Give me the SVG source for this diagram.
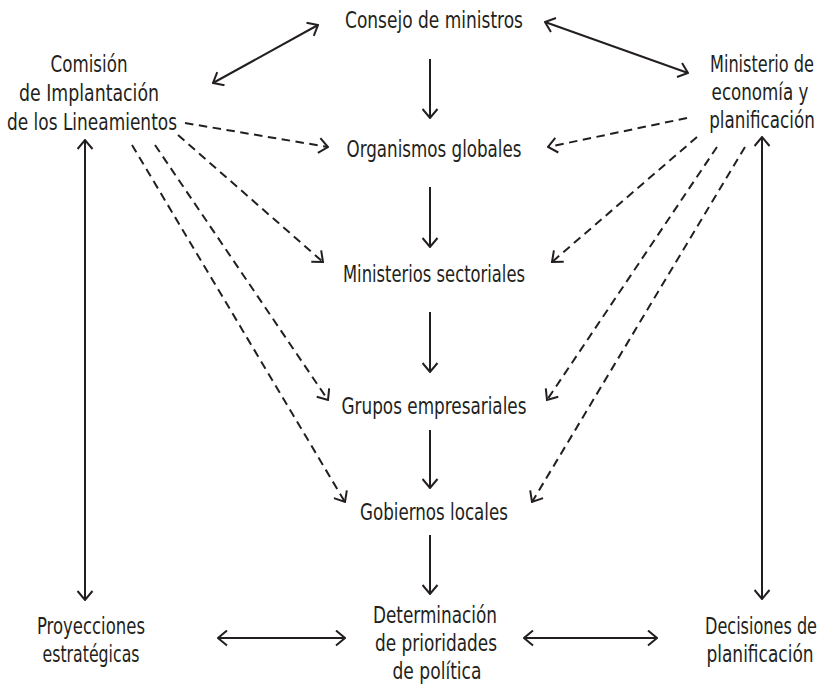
<svg xmlns="http://www.w3.org/2000/svg" width="825" height="685" viewBox="0 0 825 685">
<defs>
<style>
text{font-family:"DejaVu Sans Condensed","DejaVu Sans","Liberation Sans",sans-serif;font-size:22.5px;fill:#231f20;text-anchor:middle}
.c{fill:none;stroke:#231f20;stroke-width:2}
.d{stroke-dasharray:8.5 5.5}
.a{marker-end:url(#ah)}
.b{marker-start:url(#ah);marker-end:url(#ah)}
</style>
<marker id="ah" viewBox="0 0 11 17" refX="10" refY="8.5" markerWidth="11" markerHeight="17" markerUnits="userSpaceOnUse" orient="auto-start-reverse">
<path d="M1,1 L10,8.5 L1,16" fill="none" stroke="#231f20" stroke-width="2"/>
</marker>
</defs>
<rect width="825" height="685" fill="#ffffff"/>
<g id="connectors">
<line class="c b" x1="213" y1="83" x2="318" y2="25"/>
<line class="c b" x1="545" y1="22" x2="688" y2="73"/>
<line class="c a" x1="430" y1="59" x2="430" y2="118"/>
<line class="c a" x1="430" y1="187" x2="430" y2="247"/>
<line class="c a" x1="430" y1="312" x2="430" y2="372"/>
<line class="c a" x1="430" y1="430" x2="430" y2="488"/>
<line class="c a" x1="430" y1="535" x2="430" y2="594"/>
<line class="c b" x1="85" y1="140" x2="85" y2="600"/>
<line class="c b" x1="762" y1="137" x2="762" y2="599"/>
<line class="c b" x1="218" y1="638" x2="345" y2="638"/>
<line class="c b" x1="524" y1="638" x2="657" y2="638"/>
<line class="c d a" x1="185" y1="123" x2="328" y2="147"/>
<line class="c d a" x1="178" y1="135" x2="323" y2="262"/>
<line class="c d a" x1="155" y1="145" x2="328" y2="400"/>
<line class="c d a" x1="132" y1="145" x2="345" y2="502"/>
<line class="c d a" x1="687" y1="118" x2="548" y2="147"/>
<line class="c d a" x1="697" y1="137" x2="552" y2="262"/>
<line class="c d a" x1="717" y1="147" x2="547" y2="400"/>
<line class="c d a" x1="745" y1="147" x2="532" y2="502"/>
</g>
<g id="consejo"><text x="434" y="28" textLength="178" lengthAdjust="spacingAndGlyphs">Consejo de ministros</text></g>
<g id="comision">
<text x="89" y="72" textLength="77" lengthAdjust="spacingAndGlyphs">Comisión</text>
<text x="89" y="101" textLength="140" lengthAdjust="spacingAndGlyphs">de Implantación</text>
<text x="92" y="130" textLength="170" lengthAdjust="spacingAndGlyphs">de los Lineamientos</text>
</g>
<g id="ministerio-economia">
<text transform="translate(762,72) scale(0.8,1)" textLength="130" lengthAdjust="spacingAndGlyphs">Ministerio de</text>
<text transform="translate(760,100) scale(0.8,1)" textLength="121" lengthAdjust="spacingAndGlyphs">economía y</text>
<text transform="translate(762,128) scale(0.8,1)" textLength="132" lengthAdjust="spacingAndGlyphs">planificación</text>
</g>
<g id="organismos"><text x="434" y="157" textLength="175" lengthAdjust="spacingAndGlyphs">Organismos globales</text></g>
<g id="ministerios"><text x="434" y="282" textLength="182" lengthAdjust="spacingAndGlyphs">Ministerios sectoriales</text></g>
<g id="grupos"><text x="434" y="414" textLength="185" lengthAdjust="spacingAndGlyphs">Grupos empresariales</text></g>
<g id="gobiernos"><text x="434" y="520" textLength="148" lengthAdjust="spacingAndGlyphs">Gobiernos locales</text></g>
<g id="determinacion">
<text x="435" y="623" textLength="124" lengthAdjust="spacingAndGlyphs">Determinación</text>
<text x="436" y="651" textLength="122" lengthAdjust="spacingAndGlyphs">de prioridades</text>
<text x="437" y="679" textLength="89" lengthAdjust="spacingAndGlyphs">de política</text>
</g>
<g id="proyecciones">
<text x="91" y="634" textLength="108" lengthAdjust="spacingAndGlyphs">Proyecciones</text>
<text x="91" y="662" textLength="97" lengthAdjust="spacingAndGlyphs">estratégicas</text>
</g>
<g id="decisiones">
<text transform="translate(761,634) scale(0.8,1)" textLength="140" lengthAdjust="spacingAndGlyphs">Decisiones de</text>
<text transform="translate(760,662) scale(0.8,1)" textLength="134" lengthAdjust="spacingAndGlyphs">planificación</text>
</g>
</svg>
